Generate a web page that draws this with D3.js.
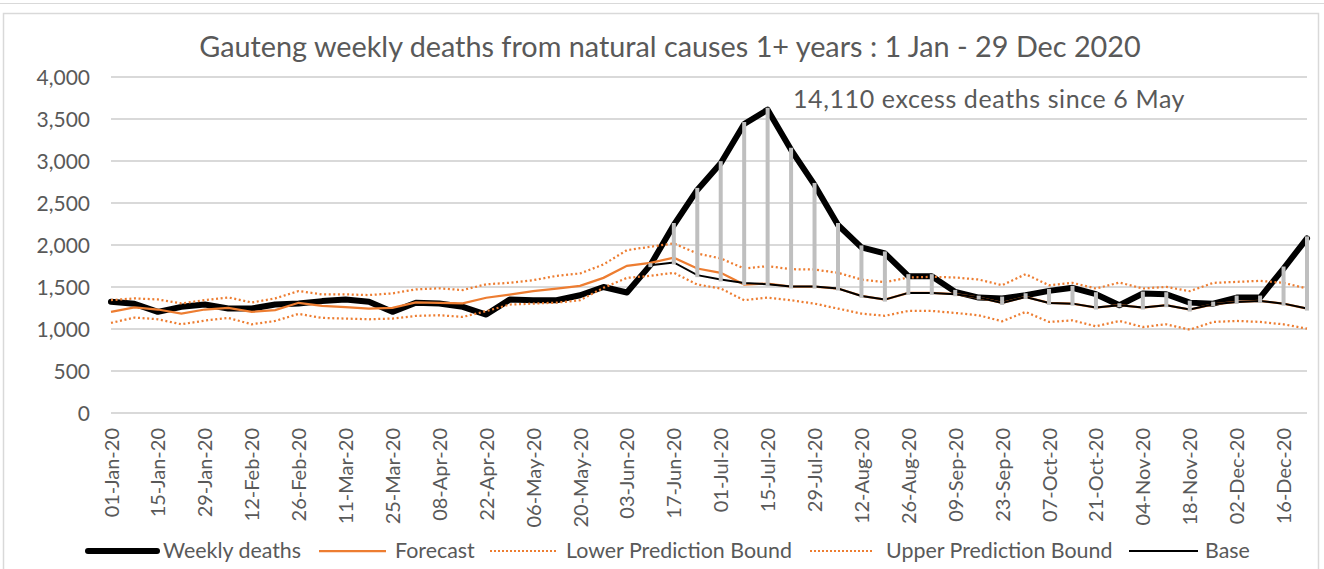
<!DOCTYPE html>
<html><head><meta charset="utf-8">
<script src="https://cdn.jsdelivr.net/npm/d3@7"></script>
<style>
html,body{margin:0;padding:0;background:#fff;}
svg{display:block;font-family:Lato,"Open Sans",sans-serif;}
</style></head>
<body>
<svg id="chart" width="1324" height="569"></svg>
<script>
const categories = ["01-Jan-20","08-Jan-20","15-Jan-20","22-Jan-20","29-Jan-20","05-Feb-20","12-Feb-20","19-Feb-20","26-Feb-20","04-Mar-20","11-Mar-20","18-Mar-20","25-Mar-20","01-Apr-20","08-Apr-20","15-Apr-20","22-Apr-20","29-Apr-20","06-May-20","13-May-20","20-May-20","27-May-20","03-Jun-20","10-Jun-20","17-Jun-20","24-Jun-20","01-Jul-20","08-Jul-20","15-Jul-20","22-Jul-20","29-Jul-20","05-Aug-20","12-Aug-20","19-Aug-20","26-Aug-20","02-Sep-20","09-Sep-20","16-Sep-20","23-Sep-20","30-Sep-20","07-Oct-20","14-Oct-20","21-Oct-20","28-Oct-20","04-Nov-20","11-Nov-20","18-Nov-20","25-Nov-20","02-Dec-20","09-Dec-20","16-Dec-20","23-Dec-20"];

const weeklyDeaths = [1324,1300,1204,1264,1292,1244,1244,1292,1304,1332,1352,1324,1204,1312,1304,1264,1172,1350,1342,1342,1402,1500,1434,1760,2238,2656,2974,3440,3611,3133,2715,2238,1971,1900,1629,1629,1442,1374,1362,1402,1454,1490,1414,1283,1422,1414,1314,1302,1374,1374,1720,2079];

const forecast = [1204,1256,1232,1184,1232,1252,1204,1224,1312,1276,1260,1244,1252,1316,1312,1304,1372,1410,1450,1482,1513,1609,1752,1788,1848,1720,1669,1529,1541,1505,1505,1482,1394,1350,1430,1430,1414,1374,1310,1382,1310,1302,1255,1283,1255,1283,1231,1294,1322,1334,1302,1243];

const lowerBound = [1072,1136,1116,1056,1100,1132,1056,1096,1180,1132,1124,1116,1124,1156,1164,1144,1212,1291,1302,1314,1342,1490,1609,1633,1669,1529,1482,1342,1374,1342,1302,1243,1183,1157,1215,1215,1191,1163,1092,1203,1084,1103,1032,1096,1024,1056,992,1084,1096,1084,1056,1004];

const upperBound = [1344,1364,1352,1304,1344,1376,1316,1364,1452,1412,1412,1404,1424,1472,1484,1464,1532,1550,1581,1633,1661,1768,1939,1979,2019,1899,1840,1720,1748,1712,1708,1669,1589,1557,1613,1621,1613,1589,1521,1653,1521,1549,1482,1553,1482,1501,1450,1549,1561,1573,1549,1482];

const base = [null,null,null,null,null,null,null,null,null,null,null,null,null,null,null,null,null,null,null,null,null,null,null,1760,1792,1641,1589,1549,1533,1505,1505,1482,1394,1350,1430,1430,1414,1374,1310,1382,1310,1302,1255,1283,1255,1283,1231,1294,1322,1334,1302,1243];

const yTicks = [0,500,1000,1500,2000,2500,3000,3500,4000];
const titleText = "Gauteng weekly deaths from natural causes 1+ years : 1 Jan - 29 Dec 2020";
const annotationText = "14,110 excess deaths since 6 May";
const legendNames = ["Weekly deaths","Forecast","Lower Prediction Bound","Upper Prediction Bound","Base"];

const svg = d3.select("#chart");
const textColor = "#595959";
const orange = "#ED7D31";

// frame
svg.append("line").attr("x1",0).attr("x2",1324).attr("y1",3.5).attr("y2",3.5).attr("stroke","#D9D9D9").attr("stroke-width",1);
svg.append("rect").attr("x",3.5).attr("y",13.5).attr("width",1315).attr("height",600)
  .attr("fill","none").attr("stroke","#D9D9D9").attr("stroke-width",1.5);

const idx = d3.range(categories.length);
const x = d3.scalePoint().domain(idx).range([111,1307]);
const y = d3.scaleLinear().domain([0,4000]).range([413,77]);

// gridlines
svg.append("g").selectAll("line").data(yTicks).join("line")
  .attr("x1",111).attr("x2",1307)
  .attr("y1",d=>y(d)).attr("y2",d=>y(d))
  .attr("stroke","#D9D9D9").attr("stroke-width",2);

// y axis labels
const yAxis = d3.axisLeft(y).tickValues(yTicks).tickFormat(d3.format(",")).tickSize(0).tickPadding(0);
const yg = svg.append("g").attr("transform","translate(90,0)").call(yAxis);
yg.select(".domain").remove();
yg.selectAll("text").attr("fill",textColor).style("font-size","21px").style("font-family","Lato").attr("dy","0.35em");

// x axis labels
const xAxis = d3.axisBottom(x).tickValues(idx.filter(i=>i%2===0)).tickFormat(i=>categories[i]).tickSize(0);
const xg = svg.append("g").call(xAxis);
xg.select(".domain").remove();
xg.selectAll("text")
  .attr("fill",textColor).style("font-size","20px").style("font-family","Lato")
  .attr("text-anchor","end")
  .attr("y",0).attr("dy","0.35em")
  .attr("transform","translate(0,428) rotate(-90)");

const line = arr => d3.line().defined(i=>arr[i]!==null).x(i=>x(i)).y(i=>y(arr[i]))(idx);

// series
svg.append("path").attr("d",line(weeklyDeaths)).attr("fill","none").attr("stroke","#000")
  .attr("stroke-width",6).attr("stroke-linejoin","round").attr("stroke-linecap","round");
svg.append("path").attr("d",line(forecast)).attr("fill","none").attr("stroke",orange).attr("stroke-width",2.25);
svg.append("path").attr("d",line(lowerBound)).attr("fill","none").attr("stroke",orange).attr("stroke-width",2.25).attr("stroke-dasharray","2,2.6");
svg.append("path").attr("d",line(upperBound)).attr("fill","none").attr("stroke",orange).attr("stroke-width",2.25).attr("stroke-dasharray","2,2.6");
svg.append("path").attr("d",line(base)).attr("fill","none").attr("stroke","#000").attr("stroke-width",2);

// excess drop lines
svg.append("g").selectAll("line").data(idx.filter(i=>base[i]!==null)).join("line")
  .attr("x1",i=>x(i)).attr("x2",i=>x(i))
  .attr("y1",i=>y(base[i])).attr("y2",i=>y(weeklyDeaths[i]))
  .attr("stroke","#BFBFBF").attr("stroke-width",4).attr("stroke-linecap","square");

// title
svg.append("text").attr("x",670).attr("y",57).attr("text-anchor","middle")
  .attr("fill",textColor).style("font-size","28.8px").text(titleText);

// annotation
svg.append("text").attr("x",793).attr("y",108)
  .attr("fill",textColor).style("font-size","25px").style("letter-spacing","0.6px").text(annotationText);

// legend
const legendItems = [
  {name:legendNames[0], x1:88, x2:157, color:"#000", w:6, dash:null, cap:"round", tx:163},
  {name:legendNames[1], x1:319, x2:386, color:orange, w:2.25, dash:null, cap:"butt", tx:395},
  {name:legendNames[2], x1:490, x2:558, color:orange, w:2, dash:"2,2", cap:"butt", tx:566},
  {name:legendNames[3], x1:810, x2:874, color:orange, w:2, dash:"2,2", cap:"butt", tx:886},
  {name:legendNames[4], x1:1129, x2:1198, color:"#000", w:2, dash:null, cap:"butt", tx:1205}
];
const lg = svg.append("g");
legendItems.forEach(d=>{
  lg.append("line").attr("x1",d.x1).attr("x2",d.x2).attr("y1",551).attr("y2",551)
    .attr("stroke",d.color).attr("stroke-width",d.w).attr("stroke-linecap",d.cap)
    .attr("stroke-dasharray",d.dash);
  lg.append("text").attr("x",d.tx).attr("y",551).attr("dy","0.35em")
    .attr("fill",textColor).style("font-size","21.4px").text(d.name);
});
</script>
</body></html>
